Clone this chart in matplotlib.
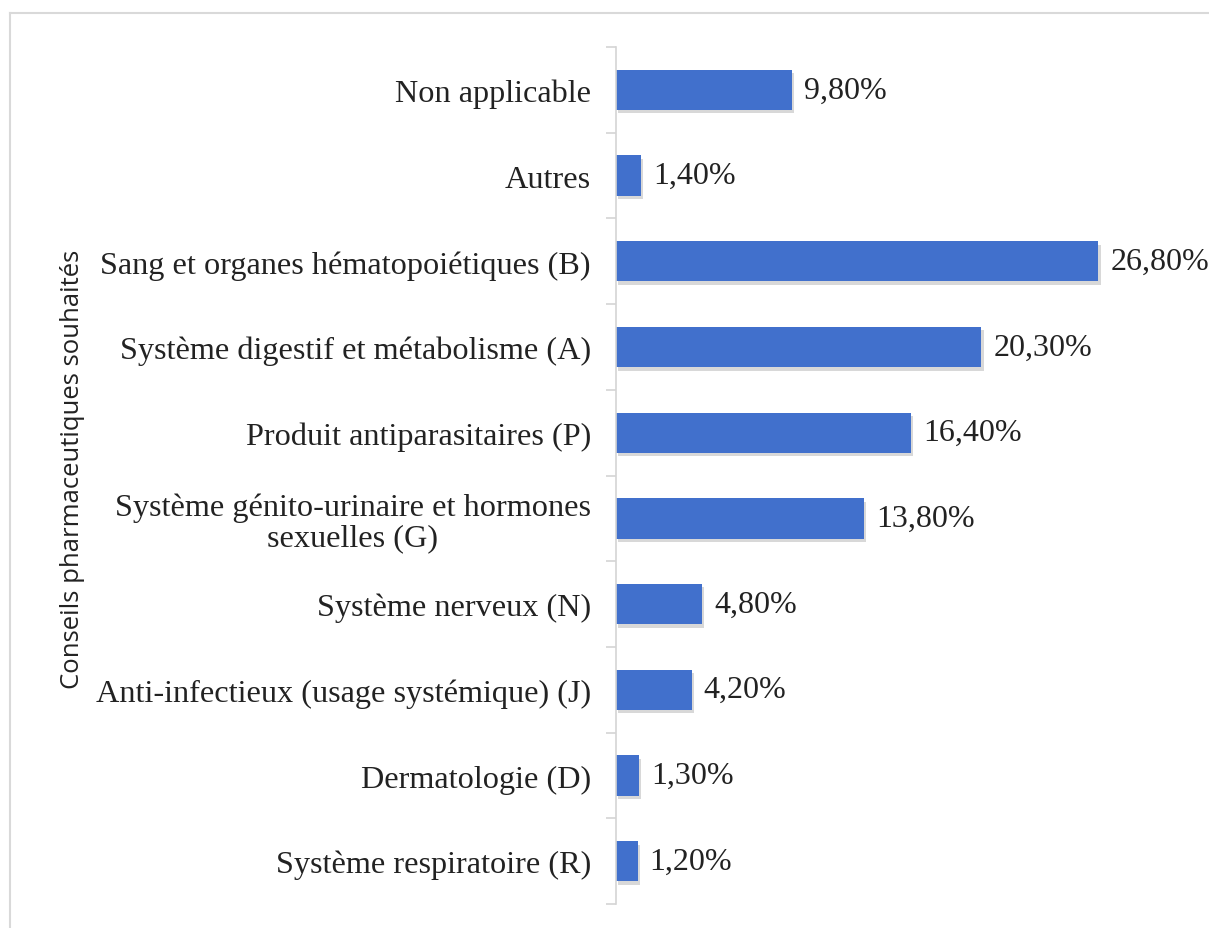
import matplotlib.pyplot as plt
import matplotlib.patheffects as pe
import numpy as np

categories = [
    "Non applicable",
    "Autres",
    "Sang et organes hématopoiétiques (B)",
    "Système digestif et métabolisme (A)",
    "Produit antiparasitaires (P)",
    "Système génito-urinaire et hormones\nsexuelles (G)",
    "Système nerveux (N)",
    "Anti-infectieux (usage systémique) (J)",
    "Dermatologie (D)",
    "Système respiratoire (R)",
]
values = [9.8, 1.4, 26.8, 20.3, 16.4, 13.8, 4.8, 4.2, 1.3, 1.2]
value_labels = ["9,80%", "1,40%", "26,80%", "20,30%", "16,40%",
                "13,80%", "4,80%", "4,20%", "1,30%", "1,20%"]

serif = ["Liberation Serif", "DejaVu Serif"]
bar_color = "#4170CC"

fig = plt.figure(figsize=(12.09, 9.29), dpi=100)

# light frame around the chart area (top and left only visible)
fig.add_artist(plt.Line2D([0.0083, 1.0], [0.985, 0.985], color="#d9d9d9", lw=1.5))
fig.add_artist(plt.Line2D([0.0083, 0.0083], [0.0, 0.985], color="#d9d9d9", lw=1.5))

ax = fig.add_axes([0.5095, 0.0258, 0.4467, 0.9225])

y = np.arange(len(categories))
bars = ax.barh(y, values, height=0.47, color=bar_color, zorder=2)
for b in bars:
    b.set_path_effects([pe.SimplePatchShadow(offset=(1.5, -2.5), shadow_rgbFace="#808080",
                                             alpha=0.3), pe.Normal()])

for yi, v, lab in zip(y, values, value_labels):
    ax.annotate(lab, (v, yi), xytext=(8.5, 0), textcoords="offset points",
                va="center", ha="left", fontsize=23, family=serif, color="#222222")

ax.set_xlim(0, 30)
ax.set_ylim(len(categories) - 0.5, -0.5)

ax.set_yticks(y)
ax.set_yticklabels(categories, fontsize=23.2, family=serif, color="#222222",
                   multialignment="center", linespacing=1.05)
ax.set_yticks(np.arange(len(categories) + 1) - 0.5, minor=True)
ax.tick_params(axis="y", which="major", length=0, pad=18)
ax.tick_params(axis="y", which="minor", length=7, color="#d4d4d4", width=1.2)
ax.set_xticks([])

for s in ["top", "right", "bottom"]:
    ax.spines[s].set_visible(False)
ax.spines["left"].set_color("#d4d4d4")
ax.spines["left"].set_linewidth(1.2)

fig.text(0.060, 0.4946, "Conseils pharmaceutiques souhaités", rotation=90,
         ha="center", va="center", fontsize=18.5, family=["Open Sans", "DejaVu Sans"],
         color="#222222")

fig.savefig("out.png", dpi=100)
